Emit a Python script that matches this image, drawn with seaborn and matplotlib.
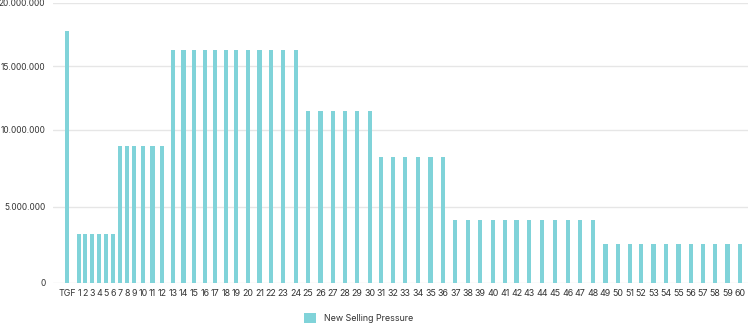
import numpy as np
import matplotlib
matplotlib.use("Agg")
import matplotlib.pyplot as plt
import seaborn as sns
from matplotlib.ticker import FuncFormatter, FixedLocator
from matplotlib.patches import Patch

# ---------------- data ----------------
categories = ["TGF",
              "1", "2", "3", "4", "5", "6", "7", "8", "9", "10",
              "11", "12", "13", "14", "15", "16", "17", "18", "19", "20",
              "21", "22", "23", "24", "25", "26", "27", "28", "29", "30",
              "31", "32", "33", "34", "35", "36", "37", "38", "39", "40",
              "41", "42", "43", "44", "45", "46", "47", "48", "49", "50",
              "51", "52", "53", "54", "55", "56", "57", "58", "59", "60"]
values = [17800000,
          3200000, 3200000, 3200000, 3200000, 3200000, 3200000,
          8950000, 8950000, 8950000, 8950000, 8950000, 8950000,
          16300000, 16300000, 16300000, 16300000, 16300000, 16300000,
          16300000, 16300000, 16300000, 16300000, 16300000, 16300000,
          11450000, 11450000, 11450000, 11450000, 11450000, 11450000,
          8200000, 8200000, 8200000, 8200000, 8200000, 8200000,
          4130000, 4130000, 4130000, 4130000, 4130000, 4130000,
          4130000, 4130000, 4130000, 4130000, 4130000, 4130000,
          2540000, 2540000, 2540000, 2540000, 2540000, 2540000,
          2540000, 2540000, 2540000, 2540000, 2540000, 2540000]
y_ticks = [0, 5000000, 10000000, 15000000, 20000000]
series_name = "New Selling Pressure"

# ---------------- style ----------------
BAR = "#80D3D9"
GRID = "#E6E6E6"
TXT = "#333333"
sns.set_theme(style="white")
plt.rcParams["font.family"] = ["Inter", "DejaVu Sans"]
FS = 6.4
FSY = 6.0

W, H, DPI = 7.55, 3.24, 100
fig = plt.figure(figsize=(W, H), dpi=DPI)
ax_l, ax_r, ax_t, ax_b = 53, 748, 3, 283  # pixels
ax = fig.add_axes([ax_l / 755, (324 - ax_b) / 324, (ax_r - ax_l) / 755, (ax_b - ax_t) / 324])

# --- x positions follow label widths (category axis packed by label size) ---
renderer = fig.canvas.get_renderer()
widths = []
for c in categories:
    t = fig.text(0, 0, c, fontsize=FS)
    widths.append(t.get_window_extent(renderer).width)
    t.remove()
first_c, last_c = 67 - ax_l, 740 - ax_l
half_sum = sum((widths[i] + widths[i + 1]) / 2 for i in range(len(widths) - 1))
gap = ((last_c - first_c) - half_sum) / (len(widths) - 1)
xpos = [first_c]
for i in range(1, len(widths)):
    xpos.append(xpos[-1] + (widths[i - 1] + widths[i]) / 2 + gap)
xpos = np.array(xpos)

# --- y axis with uneven grid spacing as in the reference ---
grid_px = np.array([0, 76.3, 153.5, 217, 280])
yv = np.array(y_ticks, dtype=float)
s0 = (grid_px[1] - grid_px[0]) / (yv[1] - yv[0])
s1 = (grid_px[-1] - grid_px[-2]) / (yv[-1] - yv[-2])
big = 1e12
xs = np.concatenate([[-big], yv, [big]])
ys = np.concatenate([[grid_px[0] - s0 * (big + yv[0])], grid_px, [grid_px[-1] + s1 * (big - yv[-1])]])
fwd = lambda v: np.interp(v, xs, ys)
inv = lambda p: np.interp(p, ys, xs)
ax.set_yscale("function", functions=(fwd, inv))

min_sp = np.min(np.diff(xpos))
sns.barplot(x=xpos, y=values, native_scale=True, color=BAR, saturation=1,
            width=4.2 / min_sp, errorbar=None, linewidth=0, ax=ax, zorder=3)

ax.set_xlim(0, ax_r - ax_l)
ax.set_ylim(0, 20000000)
ax.yaxis.set_major_locator(FixedLocator(y_ticks))
ax.yaxis.set_minor_locator(FixedLocator([]))
ax.yaxis.set_major_formatter(FuncFormatter(lambda v, p: f"{int(v):,}".replace(",", ".")))
ax.set_xticks(xpos)
ax.set_xticklabels(categories)
ax.tick_params(axis="both", colors=TXT, length=0)
ax.tick_params(axis="x", labelsize=FS, pad=4)
ax.tick_params(axis="y", labelsize=FSY, pad=5.5)
ax.grid(axis="y", color=GRID, linewidth=1, zorder=0)
ax.set_axisbelow(True)
for s in ax.spines.values():
    s.set_visible(False)
ax.set_xlabel("")
ax.set_ylabel("")

handles = [Patch(facecolor=BAR, edgecolor="none", label=series_name)]
fig.legend(handles=handles, loc="center", bbox_to_anchor=(0.475, 0.0185), frameon=False,
           fontsize=FS, handlelength=1.3, handleheight=1.3, handletextpad=0.9,
           labelcolor=TXT, borderpad=0, borderaxespad=0)

fig.savefig("out.png", dpi=DPI)
